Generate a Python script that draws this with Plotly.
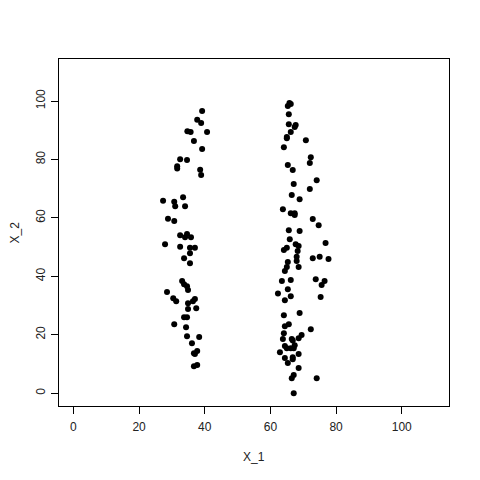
import plotly.graph_objects as go

# left cluster (X_1 around 30-40)
x_left = [39.2, 37.7, 38.9, 34.7, 35.7, 40.7, 36.7, 39.2, 32.5, 34.6,
          31.6, 31.6, 38.6, 38.9, 33.4, 27.3, 30.7, 31.0, 34.0, 28.8,
          30.7, 32.5, 34.0, 34.6, 35.8, 27.9, 32.5, 35.5, 37.0, 35.5,
          33.7, 35.5, 33.1, 33.7, 34.6, 34.9, 28.5, 30.4, 31.3, 34.9,
          37.0, 36.4, 34.9, 37.4, 33.7, 34.6, 30.7, 34.3, 34.6, 38.3,
          36.1, 36.7, 37.7, 37.0, 36.7, 37.7]
y_left = [96.6, 93.6, 92.5, 89.7, 89.4, 89.4, 86.3, 83.6, 80.1, 79.8,
          77.7, 76.9, 76.5, 74.7, 67.1, 65.9, 65.5, 64.0, 64.0, 59.7,
          58.9, 54.1, 53.4, 54.5, 53.4, 51.0, 50.1, 49.8, 49.8, 47.9,
          46.2, 44.5, 38.4, 37.3, 36.6, 35.3, 34.6, 32.5, 31.5, 30.8,
          32.2, 31.5, 28.8, 29.1, 26.0, 26.0, 23.6, 22.6, 19.5, 19.2,
          17.1, 13.7, 14.4, 13.4, 9.2, 9.6]

# right cluster (X_1 around 63-78)
x_right = [65.8, 66.2, 65.3, 65.6, 65.6, 67.7, 67.4, 66.2, 65.0, 65.0,
           70.8, 64.1, 72.3, 72.0, 65.3, 66.8, 74.1, 67.1, 72.0, 66.5,
           68.9, 63.8, 66.2, 67.4, 67.4, 72.9, 74.7, 65.6, 68.9, 65.9,
           67.7, 76.8, 68.6, 65.0, 64.1, 68.3, 68.0, 72.9, 75.0, 77.7,
           65.3, 68.0, 68.6, 65.0, 64.4, 63.5, 66.2, 73.8, 76.5, 75.6,
           65.3, 62.3, 66.2, 64.4, 75.3, 68.9, 64.1, 65.6, 64.4, 72.3,
           64.1, 69.5, 68.6, 63.8, 66.5, 66.8, 67.4, 64.4, 65.0, 66.2,
           67.1, 62.9, 68.6, 64.4, 66.8, 66.8, 65.3, 68.6, 67.1, 66.5,
           74.1, 67.1]
y_right = [99.3, 99.0, 98.3, 95.5, 92.1, 91.8, 91.1, 89.4, 87.7, 87.3,
           86.6, 84.2, 80.8, 78.8, 78.1, 76.4, 72.9, 71.6, 69.9, 67.8,
           66.4, 63.0, 61.6, 61.6, 61.0, 59.6, 57.5, 55.8, 55.5, 52.7,
           51.0, 51.4, 50.4, 49.8, 49.0, 48.7, 46.7, 46.2, 46.7, 45.9,
           44.9, 45.2, 43.2, 43.2, 41.8, 38.4, 38.7, 39.0, 38.4, 37.0,
           35.6, 34.1, 33.2, 31.8, 32.9, 27.4, 26.7, 23.6, 22.9, 21.9,
           20.5, 19.9, 18.8, 18.5, 18.5, 18.0, 16.4, 16.1, 15.4, 15.4,
           15.4, 14.0, 13.4, 12.0, 12.3, 11.6, 10.3, 8.6, 6.2, 5.1,
           5.1, 0.0]

ticks = [0, 20, 40, 60, 80, 100]

fig = go.Figure()
fig.add_trace(go.Scatter(
    x=x_left + x_right,
    y=y_left + y_right,
    mode='markers',
    marker=dict(color='black', size=6),
    showlegend=False
))

txt_font = dict(family='Liberation Sans, Arial', size=12, color='#222222')

axis_style = dict(
    range=[-4.4, 114.4],
    tickvals=ticks,
    ticks='outside',
    ticklen=7,
    tickcolor='black',
    showgrid=False,
    zeroline=False,
    showline=True,
    linecolor='black',
    linewidth=1,
    mirror=True,
    automargin=False,
    tickfont=txt_font,
)

# page body has an 8px margin, so the figure is 472 and shifted margins
fig.update_layout(
    width=472, height=472,
    margin=dict(l=51, r=31, t=51, b=74),
    plot_bgcolor='white',
    paper_bgcolor='white',
    xaxis=dict(axis_style, ticklabelstandoff=3),
    yaxis=dict(axis_style, tickangle=-90, ticklabelstandoff=1),
)

# axis titles placed like R's mtext
fig.add_annotation(text='X_1', x=0.5, y=-0.147, xref='paper', yref='paper',
                   xanchor='center', yanchor='middle', showarrow=False, font=txt_font)
fig.add_annotation(text='X_2', x=-0.113, y=0.5, xref='paper', yref='paper',
                   xanchor='center', yanchor='middle', textangle=-90,
                   showarrow=False, font=txt_font)

fig.write_html("out.html")
